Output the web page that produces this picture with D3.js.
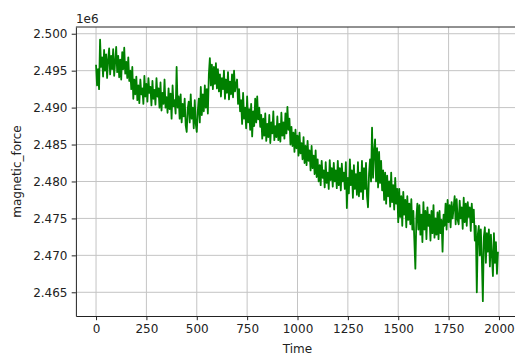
<!DOCTYPE html>
<html>
<head>
<meta charset="utf-8">
<script src="https://cdn.jsdelivr.net/npm/d3@7"></script>
<style>
  body { margin: 0; background: #fff; }
  text { font-family: "DejaVu Sans", sans-serif; fill: #222; }
</style>
</head>
<body>
<svg width="515" height="356"></svg>
<script>
// one reading every 5 time steps, 0..1995
var timeStep = 5;
// magnetic_force, in units of 1e6 (one row = 100 time steps)
var force = [
  2.4958, 2.4930, 2.4952, 2.4925, 2.4992, 2.4955, 2.4968, 2.4942, 2.4978, 2.4950, 2.4972, 2.4940, 2.4965, 2.4980, 2.4945, 2.4970, 2.4952, 2.4979, 2.4943, 2.4962,
  2.4982, 2.4948, 2.4970, 2.4941, 2.4965, 2.4938, 2.4975, 2.4952, 2.4981, 2.4946, 2.4962, 2.4940, 2.4968, 2.4936, 2.4950, 2.4925, 2.4955, 2.4912, 2.4938, 2.4918,
  2.4942, 2.4910, 2.4930, 2.4906, 2.4938, 2.4918, 2.4926, 2.4905, 2.4943, 2.4915, 2.4932, 2.4908, 2.4940, 2.4920, 2.4928, 2.4903, 2.4936, 2.4912, 2.4924, 2.4904,
  2.4940, 2.4915, 2.4926, 2.4900, 2.4934, 2.4896, 2.4920, 2.4905, 2.4938, 2.4900, 2.4914, 2.4893, 2.4926, 2.4898, 2.4919, 2.4885, 2.4930, 2.4902, 2.4910, 2.4892,
  2.4955, 2.4900, 2.4915, 2.4885, 2.4918, 2.4880, 2.4905, 2.4888, 2.4912, 2.4876, 2.4867, 2.4898, 2.4908, 2.4880, 2.4918, 2.4885, 2.4900, 2.4872, 2.4910, 2.4878,
  2.4867, 2.4895, 2.4912, 2.4880, 2.4928, 2.4890, 2.4918, 2.4895, 2.4930, 2.4900, 2.4925, 2.4892, 2.4945, 2.4967, 2.4930, 2.4958, 2.4925, 2.4955, 2.4932, 2.4960,
  2.4926, 2.4952, 2.4922, 2.4945, 2.4915, 2.4940, 2.4925, 2.4950, 2.4912, 2.4938, 2.4920, 2.4948, 2.4911, 2.4935, 2.4918, 2.4945, 2.4914, 2.4950, 2.4922, 2.4932,
  2.4938, 2.4905, 2.4925, 2.4895, 2.4910, 2.4878, 2.4920, 2.4885, 2.4900, 2.4872, 2.4915, 2.4880, 2.4898, 2.4870, 2.4905, 2.4861, 2.4895, 2.4875, 2.4912, 2.4880,
  2.4915, 2.4884, 2.4900, 2.4874, 2.4890, 2.4858, 2.4885, 2.4862, 2.4892, 2.4855, 2.4878, 2.4860, 2.4890, 2.4852, 2.4880, 2.4865, 2.4895, 2.4856, 2.4875, 2.4860,
  2.4888, 2.4856, 2.4878, 2.4854, 2.4893, 2.4862, 2.4880, 2.4858, 2.4892, 2.4865, 2.4901, 2.4870, 2.4885, 2.4850, 2.4874, 2.4848, 2.4866, 2.4840, 2.4870, 2.4845,
  2.4862, 2.4835, 2.4866, 2.4838, 2.4852, 2.4830, 2.4860, 2.4825, 2.4848, 2.4822, 2.4855, 2.4828, 2.4842, 2.4815, 2.4848, 2.4818, 2.4835, 2.4810, 2.4842, 2.4806,
  2.4830, 2.4800, 2.4822, 2.4795, 2.4828, 2.4805, 2.4815, 2.4792, 2.4826, 2.4798, 2.4812, 2.4790, 2.4829, 2.4802, 2.4818, 2.4793, 2.4825, 2.4800, 2.4815, 2.4791,
  2.4828, 2.4795, 2.4818, 2.4788, 2.4824, 2.4800, 2.4812, 2.4790, 2.4826, 2.4764, 2.4805, 2.4784, 2.4830, 2.4795, 2.4815, 2.4778, 2.4822, 2.4790, 2.4810, 2.4782,
  2.4826, 2.4780, 2.4812, 2.4786, 2.4828, 2.4776, 2.4818, 2.4790, 2.4825, 2.4780, 2.4765, 2.4810, 2.4830, 2.4800, 2.4873, 2.4805, 2.4840, 2.4857, 2.4800, 2.4845,
  2.4792, 2.4840, 2.4798, 2.4828, 2.4788, 2.4815, 2.4775, 2.4812, 2.4770, 2.4808, 2.4780, 2.4800, 2.4766, 2.4812, 2.4772, 2.4795, 2.4762, 2.4805, 2.4770, 2.4790,
  2.4745, 2.4790, 2.4752, 2.4780, 2.4740, 2.4786, 2.4755, 2.4775, 2.4738, 2.4780, 2.4748, 2.4770, 2.4742, 2.4776, 2.4735, 2.4760, 2.4720, 2.4682, 2.4750, 2.4770,
  2.4735, 2.4768, 2.4728, 2.4755, 2.4718, 2.4772, 2.4735, 2.4760, 2.4722, 2.4765, 2.4740, 2.4755, 2.4720, 2.4760, 2.4730, 2.4768, 2.4724, 2.4750, 2.4728, 2.4758,
  2.4722, 2.4760, 2.4730, 2.4748, 2.4705, 2.4755, 2.4740, 2.4770, 2.4735, 2.4775, 2.4745, 2.4768, 2.4738, 2.4772, 2.4750, 2.4765, 2.4780, 2.4742, 2.4776, 2.4748,
  2.4742, 2.4774, 2.4750, 2.4765, 2.4736, 2.4778, 2.4745, 2.4770, 2.4740, 2.4772, 2.4752, 2.4765, 2.4733, 2.4770, 2.4745, 2.4762, 2.4720, 2.4740, 2.4650, 2.4728,
  2.4740, 2.4700, 2.4735, 2.4695, 2.4638, 2.4725, 2.4738, 2.4690, 2.4730, 2.4705, 2.4735, 2.4685, 2.4728, 2.4700, 2.4672, 2.4730, 2.4690, 2.4718, 2.4675, 2.4705
];
var xTicks = [0, 250, 500, 750, 1000, 1250, 1500, 1750, 2000];
var yTicks = [2.465, 2.470, 2.475, 2.480, 2.485, 2.490, 2.495, 2.500];

var svg = d3.select("svg");

// axes box (right spine falls just outside the picture)
var boxLeft = 75.9, boxRight = 518.9, boxTop = 27, boxBottom = 316;

var x = d3.scaleLinear()
    .domain([-99.95, 2098.95])
    .range([boxLeft, boxRight]);

var y = d3.scaleLinear()
    .domain([2.46179, 2.50091])
    .range([boxBottom, boxTop]);

var data = force.map(function(v, i) { return {t: i * timeStep, v: v}; });

// grid
svg.append("g").selectAll("line").data(xTicks).enter().append("line")
    .attr("x1", function(d) { return x(d); })
    .attr("x2", function(d) { return x(d); })
    .attr("y1", boxTop).attr("y2", boxBottom)
    .attr("stroke", "#c4c4c4").attr("stroke-width", 1);

svg.append("g").selectAll("line").data(yTicks).enter().append("line")
    .attr("y1", function(d) { return y(d); })
    .attr("y2", function(d) { return y(d); })
    .attr("x1", boxLeft).attr("x2", boxRight)
    .attr("stroke", "#c4c4c4").attr("stroke-width", 1);

// the series
var line = d3.line()
    .x(function(d) { return x(d.t); })
    .y(function(d) { return y(d.v); });

svg.append("path")
    .datum(data)
    .attr("fill", "none")
    .attr("stroke", "#008000")
    .attr("stroke-width", 1.8)
    .attr("stroke-linejoin", "round")
    .attr("d", line);

// axes
var xAxis = svg.append("g")
    .attr("transform", "translate(0," + boxBottom + ")")
    .call(d3.axisBottom(x).tickValues(xTicks).tickFormat(d3.format("d"))
      .tickSize(4.2).tickPadding(4.2).tickSizeOuter(0));

var yAxis = svg.append("g")
    .attr("transform", "translate(" + boxLeft + ",0)")
    .call(d3.axisLeft(y).tickValues(yTicks).tickFormat(d3.format(".3f"))
      .tickSize(4.2).tickPadding(4.2).tickSizeOuter(0));

svg.selectAll(".tick text")
    .style("font-size", "12px")
    .style("font-family", "'DejaVu Sans', sans-serif")
    .attr("fill", "#222");
svg.selectAll(".tick line").attr("stroke", "#222");
xAxis.select(".domain").attr("stroke", "#222");
yAxis.select(".domain").attr("stroke", "#222");

// top spine
svg.append("line")
    .attr("x1", boxLeft).attr("x2", boxRight)
    .attr("y1", boxTop).attr("y2", boxTop)
    .attr("stroke", "#222");

// labels
svg.append("text")
    .attr("x", (boxLeft + boxRight) / 2)
    .attr("y", 353)
    .attr("text-anchor", "middle")
    .style("font-size", "12px")
    .text("Time");

svg.append("text")
    .attr("transform", "translate(21," + ((boxTop + boxBottom) / 2) + ") rotate(-90)")
    .attr("text-anchor", "middle")
    .style("font-size", "12px")
    .text("magnetic_force");

svg.append("text")
    .attr("x", boxLeft)
    .attr("y", 23)
    .style("font-size", "12px")
    .text("1e6");
</script>
</body>
</html>
